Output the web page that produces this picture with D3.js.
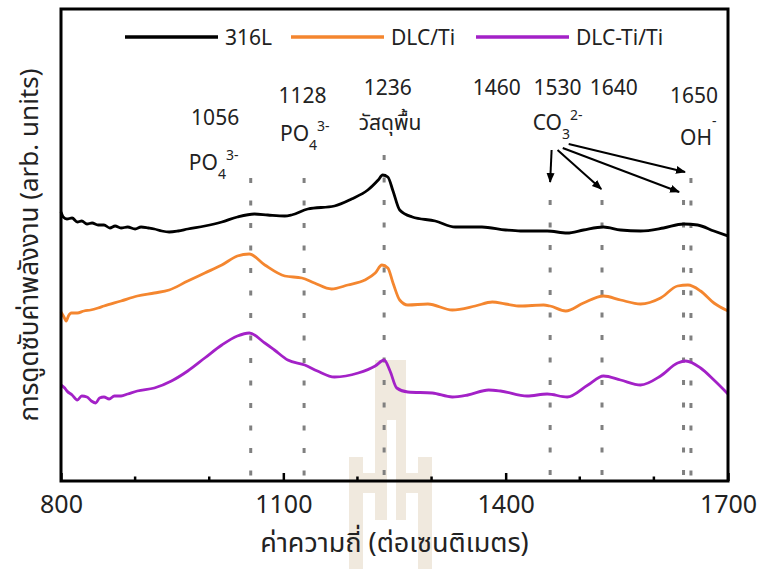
<!DOCTYPE html>
<html>
<head>
<meta charset="utf-8">
<script src="https://cdn.jsdelivr.net/npm/d3@7"></script>
<style>
  body { margin: 0; background: #fff; }
  text { font-family: "Noto Sans Thai", "Noto Sans", "DejaVu Sans", sans-serif; fill: #222; }
</style>
</head>
<body>
<script>
// wavenumbers (cm-1) and absorbance (arb. units)
var wn_316L = [800, 803, 808, 815, 822, 828, 835, 842, 850, 858, 866, 873, 881, 890, 900, 908, 918, 926, 936, 946, 958, 971, 994, 1017, 1038, 1061, 1079, 1102, 1111, 1133, 1169, 1192, 1214, 1228, 1234, 1241, 1248, 1257, 1274, 1305, 1332, 1368, 1400, 1420, 1456, 1483, 1505, 1532, 1555, 1582, 1613, 1640, 1659, 1681, 1700];
var val_316L = [268, 263, 261, 262, 258, 259, 256, 257, 255, 255, 252, 254, 252, 253, 251, 253, 252, 251, 249, 248, 249, 251, 254, 258, 263, 266, 265, 264, 265, 271, 274, 281, 290, 300, 305, 303, 289, 270, 263, 259, 253, 253, 250, 249, 249, 247, 250, 253, 250, 249, 252, 256, 255, 249, 244];

var wn_dlc = [800, 804, 807, 810, 814, 822, 831, 840, 850, 858, 881, 903, 926, 946, 971, 994, 1017, 1038, 1054, 1075, 1102, 1125, 1142, 1165, 1187, 1210, 1224, 1233, 1241, 1248, 1257, 1268, 1295, 1328, 1359, 1382, 1400, 1420, 1451, 1460, 1481, 1505, 1532, 1555, 1582, 1609, 1632, 1646, 1663, 1681, 1700];
var val_dlc = [168, 163, 159, 164, 167, 167, 169, 170, 172, 174, 179, 184, 187, 190, 199, 207, 215, 224, 226, 215, 204, 202, 197, 191, 195, 200, 207, 215, 212, 197, 180, 175, 176, 170, 174, 178, 176, 174, 175, 174, 169, 177, 184, 180, 176, 182, 194, 195, 189, 177, 169];

var wn_dlcti = [800, 805, 808, 815, 822, 828, 835, 841, 847, 852, 858, 865, 872, 881, 890, 903, 926, 949, 971, 994, 1017, 1038, 1054, 1075, 1088, 1106, 1129, 1146, 1169, 1201, 1224, 1236, 1244, 1253, 1268, 1301, 1328, 1349, 1377, 1393, 1429, 1456, 1483, 1511, 1532, 1555, 1582, 1609, 1632, 1643, 1663, 1681, 1700];
var val_dlcti = [95, 92, 89, 85, 80, 84, 83, 79, 77, 82, 83, 81, 84, 84, 86, 89, 92, 99, 109, 122, 135, 144, 147, 137, 130, 120, 115, 109, 103, 107, 114, 120, 109, 92, 88, 87, 83, 85, 90, 89, 84, 86, 83, 95, 104, 100, 95, 104, 117, 119, 112, 100, 86];

var series_names = ["316L", "DLC/Ti", "DLC-Ti/Ti"];
var series_colors = ["#000000", "#f4862f", "#a321c7"];

// band positions and where each dotted line starts (arb. units)
var band_wn = [1056, 1128, 1236, 1460, 1530, 1640, 1650];
var band_top = [302, 302, 325, 280, 280, 280, 302];

var x_ticks = [800, 1100, 1400, 1700];
var x_minor = [900, 1000, 1200, 1300, 1500, 1600];

var width = 764, height = 569;
var margin = {top: 9, right: 36, bottom: 88, left: 61};
var w = width - margin.left - margin.right;
var h = height - margin.top - margin.bottom;

var svg = d3.select("body").append("svg")
    .attr("width", width)
    .attr("height", height);

var x = d3.scaleLinear().domain([800, 1700]).range([0, w]);
var y = d3.scaleLinear().domain([-1, 471]).range([h, 0]);

// faint watermark behind the plot
var wm = svg.append("g").attr("fill", "#f0e9de");
wm.append("path").attr("d", "M375,360 H406 V520 H396 V420 H387 V520 H375 Z");
wm.append("rect").attr("x", 349).attr("y", 457).attr("width", 14).attr("height", 112);
wm.append("rect").attr("x", 418).attr("y", 457).attr("width", 14).attr("height", 112);
wm.append("rect").attr("x", 363).attr("y", 473).attr("width", 12).attr("height", 20);
wm.append("rect").attr("x", 406).attr("y", 473).attr("width", 12).attr("height", 20);

var g = svg.append("g")
    .attr("transform", "translate(" + margin.left + "," + margin.top + ")");

// dotted band lines
g.selectAll(".band")
    .data(band_wn)
    .enter().append("line")
    .attr("class", "band")
    .attr("x1", function(d) { return x(d); })
    .attr("x2", function(d) { return x(d); })
    .attr("y1", function(d, i) { return y(band_top[i]); })
    .attr("y2", h - 4)
    .attr("stroke", "#808080")
    .attr("stroke-width", 3)
    .attr("stroke-dasharray", "5,17.5");

// spectra
var line = d3.line()
    .x(function(d) { return x(d[0]); })
    .y(function(d) { return y(d[1]); })
    .curve(d3.curveMonotoneX);

var all_series = [d3.zip(wn_316L, val_316L), d3.zip(wn_dlc, val_dlc), d3.zip(wn_dlcti, val_dlcti)];

g.selectAll(".spectrum")
    .data(all_series)
    .enter().append("path")
    .attr("class", "spectrum")
    .attr("d", line)
    .attr("fill", "none")
    .attr("stroke", function(d, i) { return series_colors[i]; })
    .attr("stroke-width", 2.8)
    .attr("stroke-linejoin", "round");

// bottom axis, ticks inside
var xAxis = d3.axisBottom(x).tickValues(x_ticks).tickFormat(d3.format("d")).tickSize(-8).tickPadding(14);
var axisg = g.append("g")
    .attr("transform", "translate(0," + h + ")")
    .call(xAxis);
axisg.select(".domain").remove();
axisg.selectAll("line").attr("stroke", "#000").attr("stroke-width", 2.5);
axisg.selectAll("text")
    .style("font-size", "25px")
    .style("fill", "#222")
    .attr("dy", "0.71em");

g.selectAll(".minor")
    .data(x_minor)
    .enter().append("line")
    .attr("x1", function(d) { return x(d); })
    .attr("x2", function(d) { return x(d); })
    .attr("y1", h)
    .attr("y2", h - 4.5)
    .attr("stroke", "#000")
    .attr("stroke-width", 2.5);

// frame
g.append("rect")
    .attr("width", w)
    .attr("height", h)
    .attr("fill", "none")
    .attr("stroke", "#000")
    .attr("stroke-width", 3);

// legend
var legend_x = [125, 291, 476];
var leg = svg.selectAll(".legend")
    .data(series_names)
    .enter().append("g")
    .attr("class", "legend")
    .attr("transform", function(d, i) { return "translate(" + legend_x[i] + ",37)"; });
leg.append("line")
    .attr("x1", 0).attr("x2", 93)
    .attr("stroke", function(d, i) { return series_colors[i]; })
    .attr("stroke-width", 3.5);
leg.append("text")
    .text(function(d) { return d; })
    .attr("x", 100)
    .attr("dy", "0.36em")
    .style("font-size", "21px");

// band labels, anchored in data units
var ann = g.append("g").style("font-size", "21px").attr("text-anchor", "middle");

function label(wn, v, parts) {
    let t = ann.append("text").attr("x", x(wn)).attr("y", y(v));
    parts.forEach(function(p) {
        let s = t.append("tspan").text(p[0]);
        if (p[1] == "sub") s.attr("dy", 9).style("font-size", "14px");
        if (p[1] == "sup") s.attr("dy", -19).style("font-size", "14px");
    });
}

label(1008, 355, [["1056"]]);
label(1006, 310, [["PO"], ["4", "sub"], ["3-", "sup"]]);
label(1126, 377, [["1128"]]);
label(1129, 339, [["PO"], ["4", "sub"], ["3-", "sup"]]);
label(1241, 385, [["1236"]]);
label(1244, 350, [["วัสดุพื้น"]]);
label(1388, 385, [["1460"]]);
label(1470, 385, [["1530"]]);
label(1546, 385, [["1640"]]);
label(1654, 377, [["1650"]]);
label(1470, 350, [["CO"], ["3", "sub"], ["2-", "sup"]]);
label(1660, 335, [["OH"], ["-", "sup"]]);

// arrows from the CO3 label to its bands
svg.append("defs").append("marker")
    .attr("id", "head")
    .attr("viewBox", "0 0 10 10")
    .attr("refX", 9).attr("refY", 5)
    .attr("markerWidth", 5).attr("markerHeight", 5)
    .attr("orient", "auto")
    .append("path").attr("d", "M0,1 L10,5 L0,9 Z").attr("fill", "#000");

var arrow_from = [[1462, 330], [1470, 330], [1477, 332], [1485, 336]];
var arrow_to = [[1460, 298], [1529, 291], [1634, 288], [1642, 308]];
g.selectAll(".arrow")
    .data(arrow_from)
    .enter().append("line")
    .attr("x1", function(d) { return x(d[0]); })
    .attr("y1", function(d) { return y(d[1]); })
    .attr("x2", function(d, i) { return x(arrow_to[i][0]); })
    .attr("y2", function(d, i) { return y(arrow_to[i][1]); })
    .attr("stroke", "#000")
    .attr("stroke-width", 2)
    .attr("marker-end", "url(#head)");

// axis titles
svg.append("text")
    .text("ค่าความถี่ (ต่อเซนติเมตร)")
    .attr("x", margin.left + w / 2)
    .attr("y", 552)
    .attr("text-anchor", "middle")
    .style("font-size", "27px");

svg.append("text")
    .text("การดูดซับค่าพลังงาน (arb. units)")
    .attr("transform", "translate(38," + (margin.top + h / 2) + ") rotate(-90)")
    .attr("text-anchor", "middle")
    .style("font-size", "26px");
</script>
</body>
</html>
